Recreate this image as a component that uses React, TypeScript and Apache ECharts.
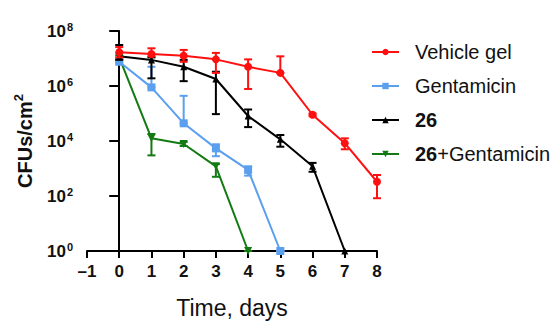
import React, { useEffect, useRef } from "react";
import * as echarts from "echarts";

const days = [0, 1, 2, 3, 4, 5, 6, 7, 8];

const vehicleMean = [1.7e7, 1.45e7, 1.25e7, 9.3e6, 5.0e6, 3.0e6, 9.0e4, 8.3e3, 3.3e2];
const vehicleUpper = [2.6e7, 2.35e7, 2.05e7, 1.6e7, 9.3e6, 1.2e7, 1.0e5, 1.25e4, 5.8e2];
const vehicleLower = [1.1e7, 1.2e7, 7.6e6, 3.0e6, 7.8e5, 3.0e6, 8.0e4, 5.0e3, 8.3e1];

const gentaMean = [7.6e6, 8.9e5, 4.4e4, 5.4e3, 8.9e2, 1];
const gentaUpper = [1.0e7, 5.0e6, 4.4e5, 7.6e3, 1.2e3, 1];
const gentaLower = [7.1e6, 8.9e5, 4.4e4, 2.8e3, 5.5e2, 1];

const c26Mean = [1.2e7, 8.9e6, 5.0e6, 1.8e6, 8.1e4, 1.15e4, 1.2e3, 1];
const c26Upper = [3.1e7, 1.1e7, 8.9e6, 3.3e6, 1.4e5, 1.65e4, 1.6e3, 1];
const c26Lower = [8.9e6, 1.9e6, 1.5e6, 9.5e4, 3.2e4, 6.2e3, 7.6e2, 1];

const comboMean = [1.1e7, 1.25e4, 7.8e3, 1.2e3, 1];
const comboUpper = [1.3e7, 1.8e4, 9.3e3, 1.45e3, 1];
const comboLower = [9.5e6, 3.0e3, 6.6e3, 5.0e2, 1];

const seriesNames = ["Vehicle gel", "Gentamicin", "26", "26+Gentamicin"];
const colors = ["#FF1010", "#5B9FEF", "#000000", "#137A13"];

const FONT = "Arial, 'Liberation Sans', Helvetica, sans-serif";

export default function App() {
  const ref = useRef<HTMLDivElement>(null);

  useEffect(() => {
    if (!ref.current) return;
    const chart = echarts.init(ref.current, null, { renderer: "svg" });

    const lg = (v: number) => Math.log10(v);
    const lineData = (m: number[]) => m.map((v, i) => [days[i], lg(v)]);
    const errData = (lo: number[], hi: number[]) => lo.map((v, i) => [days[i], lg(v), lg(hi[i])]);

    const errSeries = (name: string, color: string, lo: number[], hi: number[], z: number) => ({
      type: "custom",
      name: name + " (error)",
      z,
      clip: false,
      silent: true,
      data: errData(lo, hi),
      renderItem: (params: any, api: any) => {
        const x = api.value(0);
        const a = api.coord([x, api.value(1)]);
        const b = api.coord([x, api.value(2)]);
        const w = 4;
        const style = { stroke: color, lineWidth: 2 };
        return {
          type: "group",
          children: [
            { type: "line", shape: { x1: a[0], y1: a[1], x2: b[0], y2: b[1] }, style },
            { type: "line", shape: { x1: a[0] - w, y1: a[1], x2: a[0] + w, y2: a[1] }, style },
            { type: "line", shape: { x1: b[0] - w, y1: b[1], x2: b[0] + w, y2: b[1] }, style },
          ],
        };
      },
    });

    const lineSeries = (name: string, color: string, m: number[], symbol: string, size: number, z: number, rotate = 0) => ({
      type: "line",
      name,
      z,
      data: lineData(m),
      symbol,
      symbolSize: size,
      symbolRotate: rotate,
      showAllSymbol: true,
      clip: false,
      color,
      lineStyle: { color, width: 2 },
      itemStyle: { color },
    });

    chart.setOption({
      animation: false,
      backgroundColor: "#ffffff",
      grid: { left: 87, right: 173, top: 31, bottom: 76, containLabel: false },
      legend: {
        orient: "vertical",
        left: 366,
        top: 37,
        itemWidth: 27,
        itemHeight: 8,
        itemGap: 14,
        data: seriesNames,
        textStyle: {
          fontFamily: FONT,
          fontSize: 20,
          color: "#111",
          padding: [0, 0, 0, 11],
          rich: { b: { fontFamily: FONT, fontSize: 20, fontWeight: "bold", color: "#111" } },
        },
        formatter: (n: string) => (n === "26" ? "{b|26}" : n === "26+Gentamicin" ? "{b|26}+Gentamicin" : n),
      },
      xAxis: {
        type: "value",
        min: -1,
        max: 8,
        interval: 1,
        name: "Time, days",
        nameLocation: "middle",
        nameGap: 45,
        nameTextStyle: { fontFamily: FONT, fontSize: 23, color: "#111" },
        axisLine: { lineStyle: { color: "#000", width: 2 } },
        axisTick: { length: 7, lineStyle: { color: "#000", width: 2 } },
        splitLine: { show: false },
        axisLabel: {
          margin: 12,
          fontFamily: FONT,
          fontSize: 17,
          fontWeight: "bold",
          color: "#111",
          formatter: (v: number) => (v < 0 ? "\u2013" + Math.abs(v) : String(v)),
        },
      },
      yAxis: {
        type: "value",
        min: 0,
        max: 8,
        interval: 2,
        name: "{a|CFUs/cm}{s|2}",
        nameLocation: "middle",
        nameGap: 50,
        nameTextStyle: {
          rich: {
            a: { fontFamily: FONT, fontSize: 20, fontWeight: "bold", color: "#111" },
            s: { fontFamily: FONT, fontSize: 13, fontWeight: "bold", color: "#111", padding: [0, 0, 12, 0] },
          },
        },
        axisLine: { show: true, lineStyle: { color: "#000", width: 2 } },
        axisTick: { show: true, length: 10, lineStyle: { color: "#000", width: 2 } },
        splitLine: { show: false },
        axisLabel: {
          margin: 14,
          formatter: (v: number) => `{b|10}{s|${v}}`,
          rich: {
            b: { fontFamily: FONT, fontSize: 17, fontWeight: "bold", color: "#111" },
            s: { fontFamily: FONT, fontSize: 11, fontWeight: "bold", color: "#111", padding: [0, 0, 8, 1] },
          },
        },
      },
      series: [
        errSeries("26+Gentamicin", colors[3], comboLower, comboUpper, 2),
        lineSeries("26+Gentamicin", colors[3], comboMean, "triangle", 8, 3, 180),
        errSeries("Gentamicin", colors[1], gentaLower, gentaUpper, 4),
        lineSeries("Gentamicin", colors[1], gentaMean, "rect", 8, 5),
        errSeries("26", colors[2], c26Lower, c26Upper, 6),
        lineSeries("26", colors[2], c26Mean, "triangle", 7, 7),
        errSeries("Vehicle gel", colors[0], vehicleLower, vehicleUpper, 8),
        lineSeries("Vehicle gel", colors[0], vehicleMean, "circle", 8, 9),
      ],
    });

    return () => chart.dispose();
  }, []);

  return <div ref={ref} style={{ width: 550, height: 327, position: "absolute", left: 0, top: 0 }} />;
}
